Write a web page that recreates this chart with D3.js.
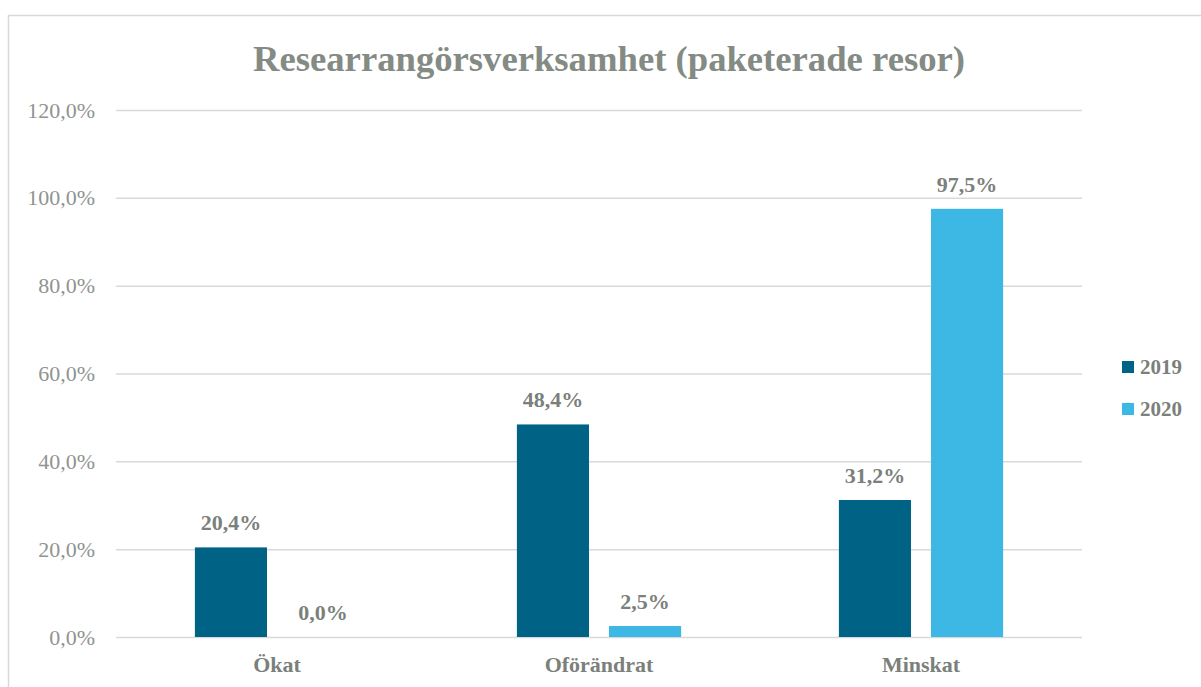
<!DOCTYPE html>
<html>
<head>
<meta charset="utf-8">
<script src="https://cdn.jsdelivr.net/npm/d3@7"></script>
<style>
  body { margin: 0; background: #fff; }
  svg text { font-family: "Liberation Serif", "DejaVu Serif", serif; }
</style>
</head>
<body>
<svg id="chart" width="1201" height="687"></svg>
<script>
const categories = ['Ökat', 'Oförändrat', 'Minskat'];
const seriesNames = ['2019', '2020'];
const values2019 = [20.4, 48.4, 31.2];
const values2020 = [0.0, 2.5, 97.5];
const yTicks = [0, 20, 40, 60, 80, 100, 120];

const svg = d3.select('#chart');
const margin = {left: 116, right: 1082, top: 110, bottom: 637};
const labelGrey = '#7b807b';

// frame
svg.append('rect')
  .attr('x', 8.5).attr('y', 15.5)
  .attr('width', 1300).attr('height', 800)
  .attr('fill', 'none')
  .attr('stroke', '#d9d9d9')
  .attr('stroke-width', 1.5);

svg.append('text')
  .attr('x', 609).attr('y', 71)
  .attr('text-anchor', 'middle')
  .attr('fill', '#848b84')
  .attr('textLength', 712)
  .attr('lengthAdjust', 'spacingAndGlyphs')
  .style('font-size', '35px')
  .style('font-weight', 'bold')
  .text('Researrangörsverksamhet (paketerade resor)');

const data = categories.map((c, i) => ({cat: c, vals: [values2019[i], values2020[i]]}));

const x0 = d3.scaleBand().domain(categories).range([margin.left, margin.right]).paddingInner(0.49).paddingOuter(0.245);
const x1 = d3.scaleBand().domain(seriesNames).range([0, x0.bandwidth()]).paddingInner(0.217);
const y = d3.scaleLinear().domain([0, 120]).range([margin.bottom, margin.top]);
const colour = d3.scaleOrdinal().domain(seriesNames).range(['#006386', '#3db7e4']);

// gridlines + y labels
const yAxis = d3.axisLeft(y).tickValues(yTicks)
  .tickSize(-(margin.right - margin.left))
  .tickPadding(21)
  .tickFormat(d => d.toFixed(1).replace('.', ',') + '%');
const yG = svg.append('g').attr('transform', `translate(${margin.left},0)`).call(yAxis);
yG.select('.domain').remove();
yG.selectAll('line').attr('stroke', '#d9d9d9').attr('stroke-width', 1.5);
yG.selectAll('text').attr('fill', '#8f948f').style('font-size', '22px')
  .style('font-family', '"Liberation Serif", serif');

// bars
const groups = svg.selectAll('.grp').data(data).enter().append('g')
  .attr('class', 'grp')
  .attr('transform', d => `translate(${x0(d.cat)},0)`);

groups.selectAll('rect')
  .data(d => d.vals.map((v, i) => ({key: seriesNames[i], v})))
  .enter().append('rect')
  .attr('x', d => x1(d.key))
  .attr('y', d => y(d.v))
  .attr('width', x1.bandwidth())
  .attr('height', d => y(0) - y(d.v))
  .attr('fill', d => colour(d.key));

groups.selectAll('.lbl')
  .data(d => d.vals.map((v, i) => ({key: seriesNames[i], v})))
  .enter().append('text')
  .attr('class', 'lbl')
  .attr('x', d => x1(d.key) + x1.bandwidth() / 2)
  .attr('y', d => y(d.v) - 17)
  .attr('text-anchor', 'middle')
  .attr('fill', labelGrey)
  .style('font-size', '22px')
  .style('font-weight', 'bold')
  .text(d => d.v.toFixed(1).replace('.', ',') + '%');

// x axis labels
const xAxis = d3.axisBottom(x0).tickSize(0).tickPadding(19);
const xG = svg.append('g').attr('transform', `translate(0,${margin.bottom})`).call(xAxis);
xG.select('.domain').remove();
xG.selectAll('text').attr('fill', labelGrey).style('font-size', '22px').style('font-weight', 'bold')
  .style('font-family', '"Liberation Serif", serif');

// legend
const legend = svg.selectAll('.legend').data(seriesNames).enter().append('g')
  .attr('transform', (d, i) => `translate(1122,${361 + i * 42})`);
legend.append('rect').attr('width', 12).attr('height', 12).attr('fill', d => colour(d));
legend.append('text')
  .attr('x', 18).attr('y', 13)
  .attr('fill', labelGrey)
  .style('font-size', '21px')
  .style('font-weight', 'bold')
  .text(d => d);
</script>
</body>
</html>
